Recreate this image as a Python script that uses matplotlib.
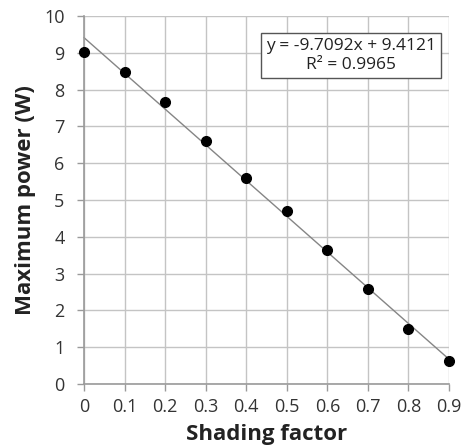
import matplotlib
matplotlib.use("Agg")
import matplotlib.pyplot as plt
import numpy as np

shading = [0.0, 0.1, 0.2, 0.3, 0.4, 0.5, 0.6, 0.7, 0.8, 0.9]
power = [9.03, 8.49, 7.66, 6.61, 5.59, 4.71, 3.63, 2.57, 1.49, 0.63]
slope = -9.7092
intercept = 9.4121
r_squared = 0.9965
x_ticks = [0, 0.1, 0.2, 0.3, 0.4, 0.5, 0.6, 0.7, 0.8, 0.9]
x_tick_labels = ["0", "0.1", "0.2", "0.3", "0.4", "0.5", "0.6", "0.7", "0.8", "0.9"]
y_ticks = list(range(0, 11))

plt.rcParams['font.family'] = ['Open Sans', 'DejaVu Sans']

fig = plt.figure(figsize=(4.61, 4.45), dpi=100)
ax = fig.add_axes([84 / 461, 1 - 384 / 445, (449 - 84) / 461, (384 - 16) / 445])

grid_c = "#c4c4c4"
ax.set_xlim(0, 0.9)
ax.set_ylim(0, 10)
ax.set_xticks(x_ticks)
ax.set_xticklabels(x_tick_labels)
ax.set_yticks(y_ticks)
ax.grid(True, color=grid_c, linewidth=1.0)
ax.set_axisbelow(True)
for side in ("top", "right"):
    ax.spines[side].set_visible(False)
for side in ("left", "bottom"):
    ax.spines[side].set_color("#9a9a9a")
    ax.spines[side].set_linewidth(1.2)
ax.tick_params(axis="both", direction="out", length=5, width=1.0, color="#9a9a9a",
               labelsize=13, labelcolor="#333333")
ax.tick_params(axis="y", pad=9)
ax.tick_params(axis="x", pad=5)

# trend line from the fitted coefficients
xf = np.array([0.0, 0.9])
ax.plot(xf, slope * xf + intercept, color="#858585", linewidth=1.0, zorder=2, clip_on=False)

ax.plot(shading, power, "o", color="black", markersize=7, zorder=3, clip_on=False)

ax.text(0.659, 8.93, f"y = {slope}x + {intercept}\nR² = {r_squared}", ha="center", va="center",
        fontsize=12.5, color="#222222", linespacing=1.2,
        bbox=dict(boxstyle="square,pad=0.3", facecolor="white", edgecolor="#555555", linewidth=1.0))

ax.set_xlabel("Shading factor", fontsize=16, fontweight="bold", color="#222222", labelpad=6)
ax.set_ylabel("Maximum power (W)", fontsize=16, fontweight="bold", color="#222222", labelpad=6)

fig.savefig("out.png", dpi=100, facecolor="white")
